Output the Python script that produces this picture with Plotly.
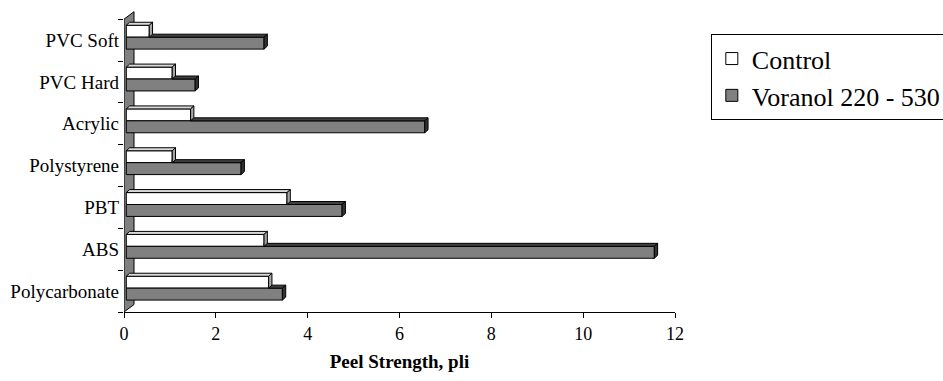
import plotly.graph_objects as go

# ---- data (bottom to top) ----
categories = ["Polycarbonate", "ABS", "PBT", "Polystyrene", "Acrylic", "PVC Hard", "PVC Soft"]
control = [3.1, 3.0, 3.5, 1.0, 1.4, 1.0, 0.5]
voranol = [3.4, 11.5, 4.7, 2.5, 6.5, 1.5, 3.0]
x_ticks = [0, 2, 4, 6, 8, 10, 12]
series_names = ["Control", "Voranol 220 - 530"]

# ---- style / geometry constants (3-D look) ----
FONT = "Liberation Serif"
BASE = 0.05          # bar start (depth shift)
DX, DY = 0.072, 0.072  # bar depth projection
W = 0.285            # bar thickness
OFF_C, OFF_V = 0.07, -0.215
WALL_DX, WALL_DY = 0.218, 0.18

pos = list(range(len(categories)))

fig = go.Figure()
fig.add_trace(go.Bar(y=pos, x=control, base=BASE, orientation="h", name=series_names[0],
                     width=W, offset=OFF_C,
                     marker=dict(color="white", line=dict(color="black", width=1))))
fig.add_trace(go.Bar(y=pos, x=voranol, base=BASE, orientation="h", name=series_names[1],
                     width=W, offset=OFF_V,
                     marker=dict(color="#808080", line=dict(color="black", width=1))))

def poly_trace(xs, ys, color):
    return go.Scatter(x=xs, y=ys, mode="lines", fill="toself", fillcolor=color,
                      line=dict(color="black", width=1), showlegend=False,
                      hoverinfo="skip", cliponaxis=False)

vt_x, vt_y, vs_x, vs_y, ct_x, ct_y, cs_x, cs_y = ([] for _ in range(8))
for p, c, v in zip(pos, control, voranol):
    yc0, yc1 = p + OFF_C, p + OFF_C + W
    yv0, yv1 = p + OFF_V, p + OFF_V + W
    xc, xv = BASE + c, BASE + v
    # voranol top face (visible part right of control bar)
    vt_x += [xc, xv, xv + DX, xc, xc, None]
    vt_y += [yv1, yv1, yv1 + DY, yv1 + DY, yv1, None]
    # voranol side face
    vs_x += [xv, xv + DX, xv + DX, xv, xv, None]
    vs_y += [yv0, yv0 + DY, yv1 + DY, yv1, yv0, None]
    # control top face
    ct_x += [BASE, BASE + DX, xc + DX, xc, BASE, None]
    ct_y += [yc1, yc1 + DY, yc1 + DY, yc1, yc1, None]
    # control side face
    cs_x += [xc, xc + DX, xc + DX, xc, xc, None]
    cs_y += [yc0, yc0 + DY, yc1 + DY, yc1, yc0, None]

fig.add_trace(poly_trace(vt_x, vt_y, "#404040"))
fig.add_trace(poly_trace(vs_x, vs_y, "#333333"))
fig.add_trace(poly_trace(ct_x, ct_y, "#d9d9d9"))
fig.add_trace(poly_trace(cs_x, cs_y, "#a6a6a6"))

ylo, yhi = -0.5, len(categories) - 0.5
# back wall
fig.add_shape(type="path", xref="x", yref="y", layer="below",
              path=f"M 0,{ylo} L {WALL_DX},{ylo + WALL_DY} L {WALL_DX},{yhi + WALL_DY} L 0,{yhi} Z",
              fillcolor="#808080", line=dict(color="black", width=1))

fig.update_layout(
    width=943, height=381,
    margin=dict(l=124, r=268, t=10, b=69, autoexpand=False),
    paper_bgcolor="white", plot_bgcolor="white",
    font=dict(family=FONT, color="black", size=18),
    barmode="overlay",
    showlegend=True,
    legend=dict(x=1.065, y=0.92, xanchor="left", yanchor="top",
                font=dict(family=FONT, size=26, color="black"),
                bordercolor="black", borderwidth=1, bgcolor="white",
                traceorder="normal"),
    xaxis=dict(range=[0, 12], tickvals=x_ticks, ticks="outside", ticklen=5,
               tickcolor="black", showline=True, linecolor="black", linewidth=1,
               showgrid=False, zeroline=False,
               tickfont=dict(family=FONT, size=18),
               title=dict(text="<b>Peel Strength, pli</b>",
                          font=dict(family=FONT, size=19), standoff=12)),
    yaxis=dict(range=[ylo, yhi + 0.22], tickvals=pos, ticktext=categories,
               ticks="", showline=False, showgrid=False, zeroline=False,
               tickfont=dict(family=FONT, size=19), ticklabelstandoff=4,
               minor=dict(tickvals=[k - 0.5 for k in range(len(categories) + 1)],
                          ticks="outside", ticklen=5, tickcolor="black", showgrid=False)),
)

fig.write_html("out.html")
